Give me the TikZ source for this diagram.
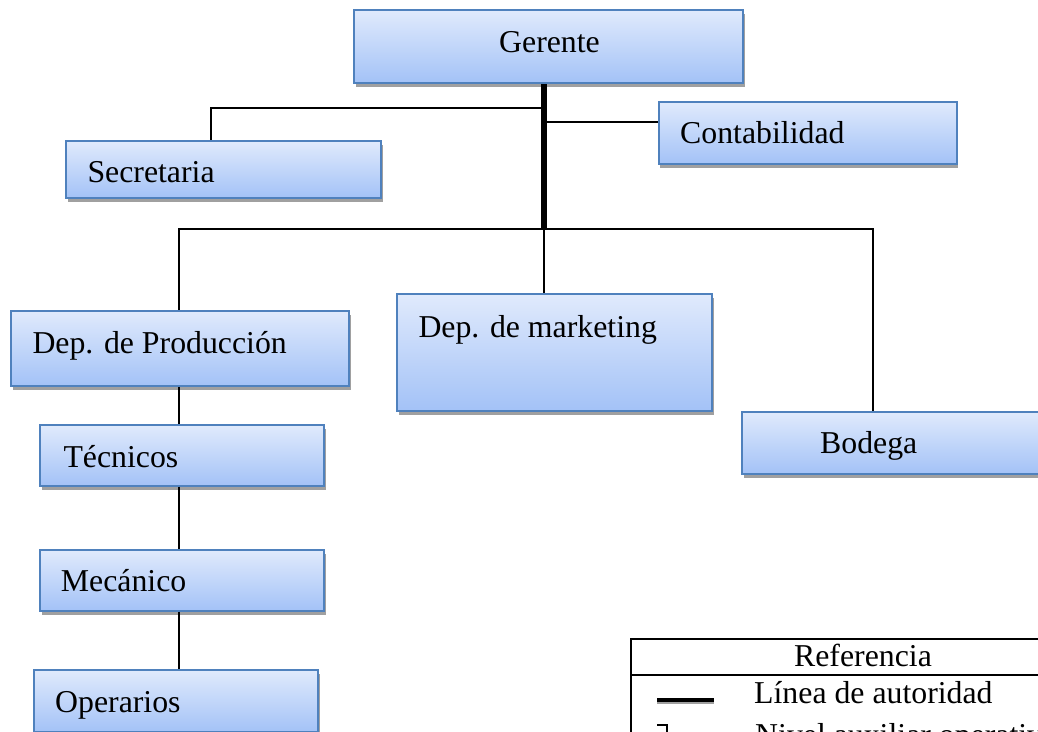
\documentclass[tikz,border=0pt]{standalone}
\usepackage{fontspec}
\setmainfont{Liberation Serif}
\usetikzlibrary{shadows}

\definecolor{boxline}{RGB}{79,129,189}
\definecolor{boxtop}{RGB}{224,234,252}
\definecolor{boxbottom}{RGB}{163,194,247}
\definecolor{shadowgray}{RGB}{160,160,160}

\tikzset{
    box/.style={draw=boxline, line width=2pt, top color=boxtop, bottom color=boxbottom,
        drop shadow={shadow xshift=1.5pt, shadow yshift=-4pt, fill=shadowgray, opacity=1},
        inner sep=0pt},
    txt/.style={anchor=base west, inner sep=0pt, font=\fontsize{31.8}{38}\selectfont},
    link/.style={line width=2pt},
    authority/.style={line width=6pt}
}

\begin{document}
\begin{tikzpicture}[x=1pt, y=-1pt]
    \useasboundingbox (0,0) rectangle (1038,731);
    \clip (0,0) rectangle (1038,731);

    %%  Boxes
    \node [box, minimum width=389pt, minimum height=73pt] (ger) at (548.5, 46.5) {};
    \node [box, minimum width=315pt, minimum height=57pt] (sec) at (223.5, 169.5) {};
    \node [box, minimum width=298pt, minimum height=62pt] (con) at (807.5, 132.8) {};
    \node [box, minimum width=338pt, minimum height=75pt] (prod) at (180, 348.3) {};
    \node [box, minimum width=315pt, minimum height=117pt] (mkt) at (554.8, 352.5) {};
    \node [box, minimum width=310pt, minimum height=62pt] (bod) at (897, 442.8) {};
    \node [box, minimum width=284pt, minimum height=60.4pt] (tec) at (182, 455.5) {};
    \node [box, minimum width=284pt, minimum height=60.7pt] (mec) at (182, 580.3) {};
    \node [box, minimum width=284pt, minimum height=62pt] (ope) at (176, 701) {};

    % Box texts
    \node [txt] (ger-t) at (499, 52.5) {Gerente};
    \node [txt] (sec-t) at (87.3, 182.5) {Secretaria};
    \node [txt] (con-t) at (680, 143) {Contabilidad};
    \node [txt] (prod-t) at (32.3, 353) {Dep. de Producción};
    \node [txt] (mkt-t) at (418.3, 337) {Dep. de marketing};
    \node [txt] (bod-t) at (820, 453) {Bodega};
    \node [txt] (tec-t) at (63.3, 467.5) {Técnicos};
    \node [txt] (mec-t) at (60.7, 591) {Mecánico};
    \node [txt] (ope-t) at (55, 712) {Operarios};

    %%  Connectors
    \coordinate (jb) at (544, 228.5);
    \coordinate (js) at (544, 108.3);
    \coordinate (jc) at (544, 121.7);
    \coordinate (col) at (179, 0);

    % Gerente to staff
    \draw [link] (js) -| ([xshift=-12.5pt]sec.north);
    \draw [link] (jc) -- (jc -| con.west);
    % Departments
    \draw [link] (col |- prod.north) |- (jb) -| ([xshift=-24pt]bod.north);
    \draw [link] (jb) -- (jb |- mkt.north);
    % Authority line
    \draw [authority] (ger.south -| jb) -- ([yshift=-1pt]jb);
    % Production chain
    \draw [link] (col |- prod.south) -- (col |- tec.north);
    \draw [link] (col |- tec.south) -- (col |- mec.north);
    \draw [link] (col |- mec.south) -- (col |- ope.north);

    %%  Legend
    \draw [line width=2pt] (631, 639) rectangle (1050, 760);
    \draw [line width=2pt] (631, 675) -- (1050, 675);
    \node [txt, anchor=base] (ref) at (863, 666.5) {Referencia};
    \draw [line width=3pt, shadowgray] (657, 702.5) -- (714, 702.5);
    \draw [line width=4pt] (657, 699.5) -- (714, 699.5);
    \node [txt] (la) at (754, 703) {Línea de autoridad};
    \draw [line width=1.5pt] (657, 725) -- (667, 725) -- (667, 732);
    \node [txt] (na) at (755, 745) {Nivel auxiliar operativo};
\end{tikzpicture}
\end{document}
